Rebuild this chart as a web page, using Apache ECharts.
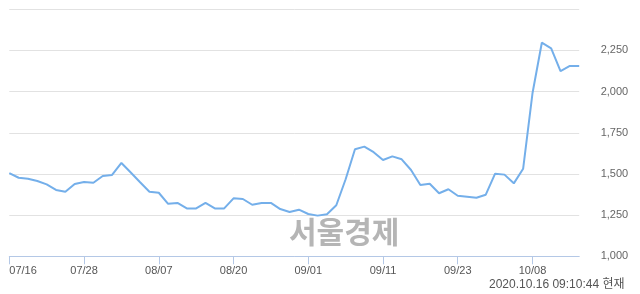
<!DOCTYPE html>
<html>
<head>
<meta charset="utf-8">
<script src="https://cdn.jsdelivr.net/npm/echarts@6/dist/echarts.min.js"></script>
<style>
html,body{margin:0;padding:0;background:#fff;}
#c{width:640px;height:294px;}
</style>
</head>
<body>
<div id="c"></div>
<script>
const dates = ['07/16','07/17','07/20','07/21','07/22','07/23','07/24','07/27','07/28','07/29','07/30','07/31',
'08/03','08/04','08/05','08/06','08/07','08/10','08/11','08/12','08/13','08/14','08/18','08/19','08/20','08/21',
'08/24','08/25','08/26','08/27','08/28','08/31','09/01','09/02','09/03','09/04','09/07','09/08','09/09','09/10',
'09/11','09/14','09/15','09/16','09/17','09/18','09/21','09/22','09/23','09/24','09/25','09/28','09/29',
'10/05','10/06','10/07','10/08','10/12','10/13','10/14','10/15','10/16'];
const prices = [1505,1477,1471,1457,1437,1403,1392,1439,1451,1447,1488,1494,1567,1509,1450,1392,1386,1319,1324,1291,
1291,1324,1291,1291,1352,1348,1313,1324,1324,1287,1269,1283,1257,1247,1255,1310,1468,1650,1666,1632,
1585,1607,1589,1524,1433,1441,1383,1407,1368,1362,1356,1374,1502,1496,1443,1532,1990,2297,2263,2125,2156,2156];
const yTicks = [1000,1250,1500,1750,2000,2250,2500];
const watermark = '서울경제';
const stamp = '2020.10.16 09:10:44 현재';

const chart = echarts.init(document.getElementById('c'), null, {renderer:'canvas'});
chart.setOption({
  animation:false,
  grid:{left:9.3,right:60.8,top:9.3,bottom:37.7},
  graphic:[
    {type:'text',left:289,top:217,z:0,style:{text:watermark,fontSize:30,fontWeight:'bold',fontFamily:'Noto Sans CJK KR',fill:'#b5b5b5'}},
    {type:'text',left:489,top:279,style:{text:stamp,fontSize:12,fontFamily:'Liberation Sans, Noto Sans CJK KR',fill:'#555'}}
  ],
  xAxis:{
    type:'category',data:dates,boundaryGap:false,
    axisLine:{lineStyle:{color:'#b4c8e6',width:1}},
    axisTick:{interval:7,length:8,lineStyle:{color:'#b4c8e6'}},
    axisLabel:{interval:7,color:'#555',fontSize:11,fontFamily:'Liberation Sans',margin:9,alignMinLabel:'left'},
    splitLine:{show:false}
  },
  yAxis:{
    type:'value',position:'right',min:yTicks[0],max:yTicks[yTicks.length-1],interval:250,
    axisLine:{show:false},axisTick:{show:false},
    axisLabel:{color:'#666',fontSize:11,fontFamily:'Liberation Sans',align:'right',margin:49,
      formatter:v=>v===2500?'':v.toLocaleString('en-US')},
    splitLine:{lineStyle:{color:'#e2e2e2',width:1}}
  },
  series:[{
    type:'line',data:prices,symbol:'none',z:5,
    lineStyle:{color:'#74afea',width:2}
  }]
});
</script>
</body>
</html>
